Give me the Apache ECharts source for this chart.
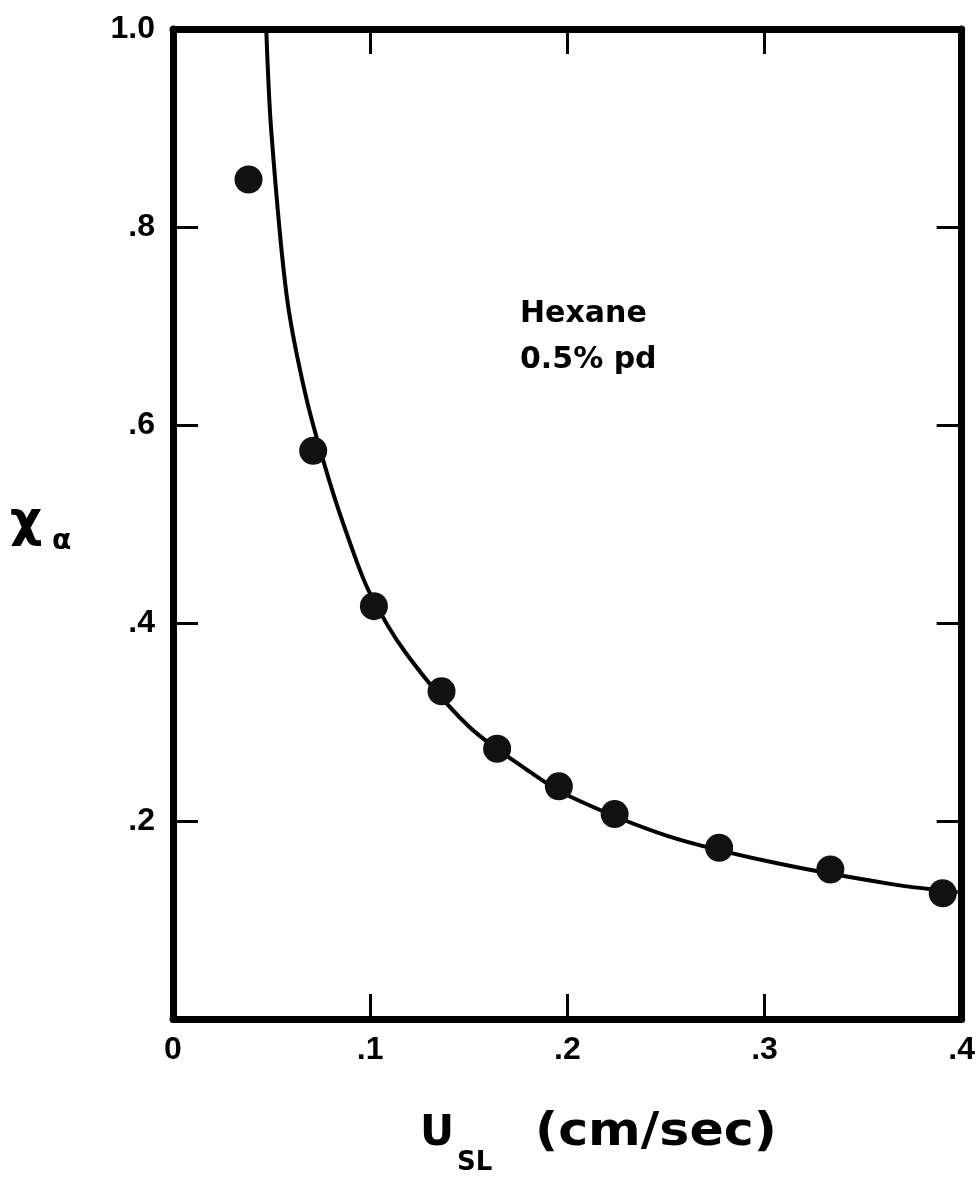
<!DOCTYPE html>
<html><head><meta charset="utf-8">
<script src="https://cdn.jsdelivr.net/npm/echarts@6/dist/echarts.min.js"></script>
<style>html,body{margin:0;padding:0;background:#fff}#c{width:978px;height:1177px}</style>
</head><body><div id="c"></div>
<script>
// Measured data points (U_SL in cm/sec, X_alpha)
const pointX = [0.0383, 0.0711, 0.1019, 0.1362, 0.1644, 0.1957, 0.2240, 0.2770, 0.3334, 0.3904];
const pointY = [0.848, 0.574, 0.417, 0.331, 0.273, 0.235, 0.207, 0.173, 0.151, 0.127];
// Fitted curve
const curveX = [0.0473, 0.0498, 0.0577, 0.0674, 0.0792, 0.0901, 0.0994, 0.1180, 0.1498, 0.1800, 0.2000, 0.2507, 0.3047, 0.3652, 0.3980];
const curveY = [1.000, 0.898, 0.730, 0.629, 0.544, 0.479, 0.432, 0.370, 0.296, 0.251, 0.226, 0.185, 0.158, 0.136, 0.128];
const xTickLabels = ['0', '.1', '.2', '.3', '.4'];
const yTickLabels = ['', '.2', '.4', '.6', '.8', '1.0'];
const noteLines = ['Hexane', '0.5% pd'];

const chart = echarts.init(document.getElementById('c'), null, {renderer: 'canvas'});
const tickFont = {fontFamily: '"Liberation Sans", Arial, sans-serif', fontWeight: 'bold', fontSize: 32, color: '#000'};
const axLine = {show: true, onZero: false, lineStyle: {color: '#000', width: 7, cap: 'round'}};
const axTick = {show: true, inside: true, length: 25, lineStyle: {color: '#000', width: 3}};

function xAx(pos, labels) {
  return {type: 'value', position: pos, min: 0, max: 0.4, interval: 0.1,
    axisLine: axLine, axisTick: axTick, splitLine: {show: false},
    axisLabel: labels ? Object.assign({margin: 15, formatter: v => xTickLabels[Math.round(v / 0.1)]}, tickFont) : {show: false}};
}
function yAx(pos, labels) {
  return {type: 'value', position: pos, min: 0, max: 1.0, interval: 0.2,
    axisLine: axLine, axisTick: axTick, splitLine: {show: false},
    axisLabel: labels ? Object.assign({margin: 18, formatter: v => yTickLabels[Math.round(v / 0.2)]}, tickFont) : {show: false}};
}

chart.setOption({
  backgroundColor: '#fff',
  animation: false,
  grid: {left: 173, right: 12, top: 29, bottom: 158},
  xAxis: [xAx('bottom', true), xAx('top', false)],
  yAxis: [yAx('left', true), yAx('right', false)],
  series: [
    {type: 'line', xAxisIndex: 0, yAxisIndex: 0, smooth: 0.3, showSymbol: false, clip: true,
      lineStyle: {color: '#000', width: 4}, data: curveX.map((x, i) => [x, curveY[i]]), z: 2},
    {type: 'scatter', xAxisIndex: 0, yAxisIndex: 0, symbol: 'circle', symbolSize: 28,
      itemStyle: {color: '#111', opacity: 1}, data: pointX.map((x, i) => [x, pointY[i]]), z: 3}
  ],
  graphic: [
    {type: 'text', left: 520, top: 299, style: {text: noteLines[0], font: 'bold 30px "DejaVu Sans", sans-serif', fill: '#000'}},
    {type: 'text', left: 520, top: 345, style: {text: noteLines[1], font: 'bold 30px "DejaVu Sans", sans-serif', fill: '#000'}},
    {type: 'text', left: 420, top: 1113, style: {text: 'U', font: 'bold 42px "DejaVu Sans", sans-serif', fill: '#000'}},
    {type: 'text', left: 457, top: 1150, style: {text: 'SL', font: 'bold 26px "DejaVu Sans", sans-serif', fill: '#000'}},
    {type: 'text', left: 535, top: 1110, scaleX: 1.1, style: {text: '(cm/sec)', font: 'bold 46px "DejaVu Sans", sans-serif', fill: '#000'}},
    {type: 'text', left: 10, top: 498, style: {text: 'χ', font: 'bold 50px "DejaVu Sans", sans-serif', fill: '#000'}},
    {type: 'text', left: 52, top: 528, style: {text: 'α', font: 'bold 28px "DejaVu Sans", sans-serif', fill: '#000'}}
  ]
});
</script></body></html>
